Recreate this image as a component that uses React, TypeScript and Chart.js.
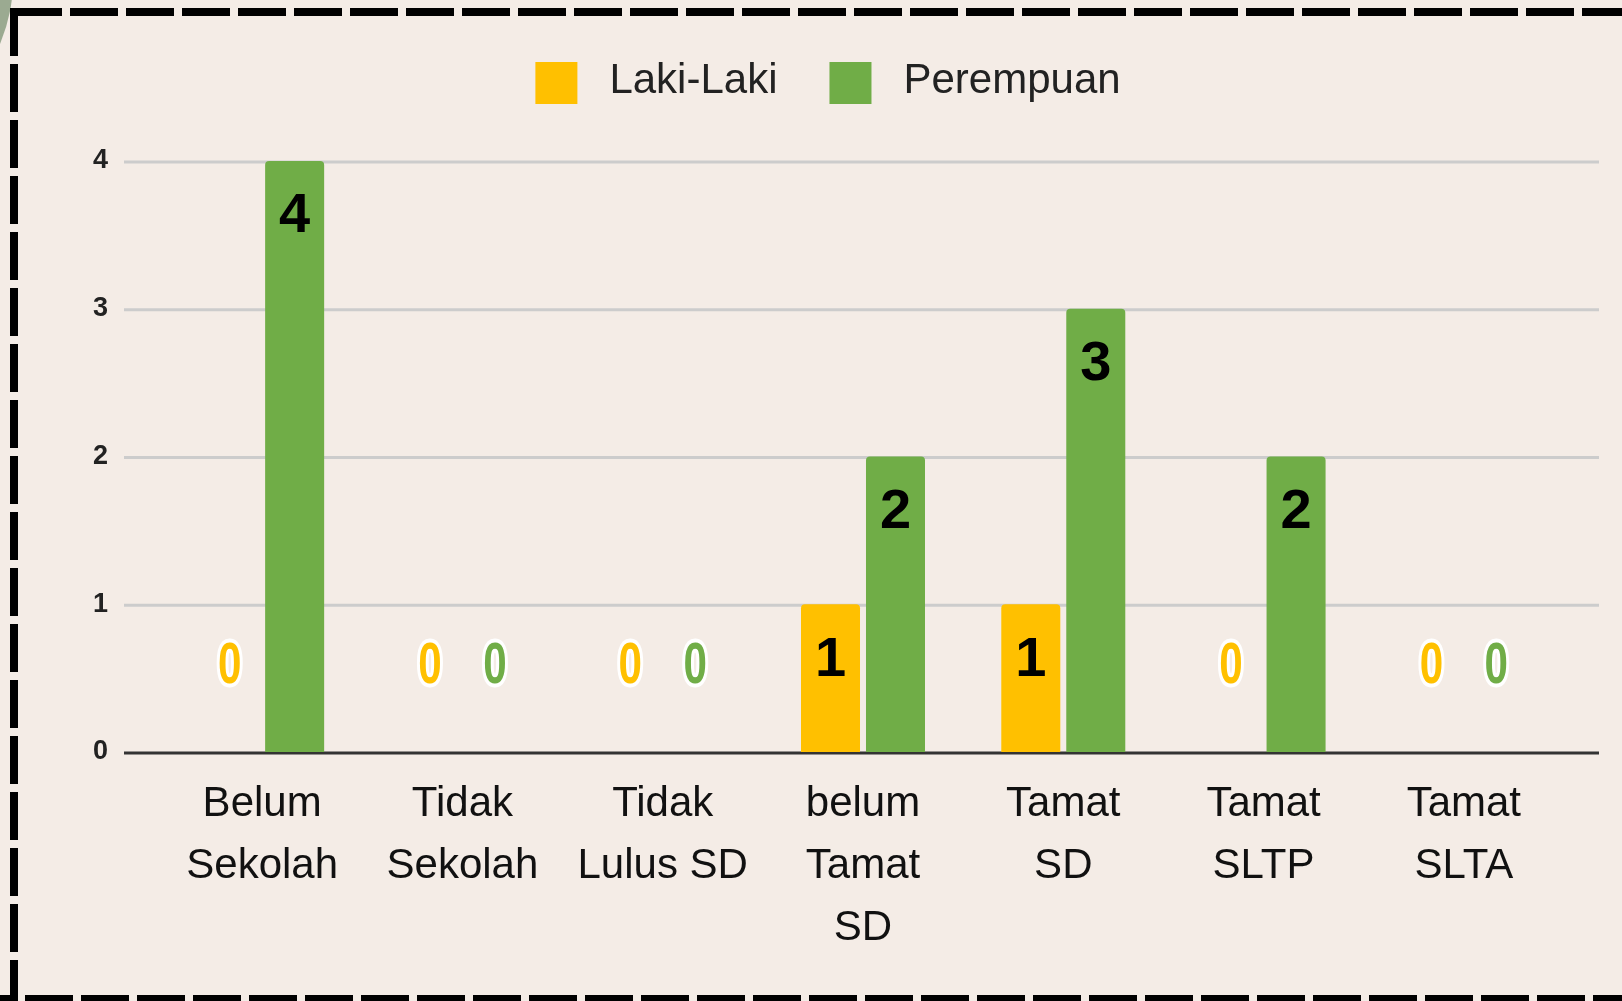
import React, { useEffect, useRef } from "react";
import { Chart, registerables } from "chart.js";

Chart.register(...registerables);

const categories: string[][] = [
  ["Belum", "Sekolah"],
  ["Tidak", "Sekolah"],
  ["Tidak", "Lulus SD"],
  ["belum", "Tamat", "SD"],
  ["Tamat", "SD"],
  ["Tamat", "SLTP"],
  ["Tamat", "SLTA"],
];
const lakiLaki = [0, 0, 0, 1, 1, 0, 0];
const perempuan = [4, 0, 0, 2, 3, 2, 0];
const yTicks = [0, 1, 2, 3, 4];
const seriesNames = ["Laki-Laki", "Perempuan"];
const seriesColors = ["#FFC000", "#70AD47"];

const W = 1622;
const H = 1001;
const BG = "#F4ECE6";
const FONT = '"Liberation Sans", Arial, sans-serif';

const backgroundPlugin = {
  id: "bgDeco",
  beforeDraw(chart: any) {
    const ctx = chart.ctx;
    ctx.save();
    ctx.fillStyle = BG;
    ctx.fillRect(0, 0, chart.width, chart.height);
    ctx.fillStyle = "#9BAA91";
    ctx.beginPath();
    ctx.arc(-150, -20, 163, 0, Math.PI * 2);
    ctx.fill();
    ctx.restore();
  },
};

const gridPlugin = {
  id: "customGrid",
  beforeDatasetsDraw(chart: any) {
    const ctx = chart.ctx;
    const ys = chart.scales.y;
    const { left, right } = chart.chartArea;
    ctx.save();
    yTicks.forEach((v) => {
      const py = ys.getPixelForValue(v) + 1;
      ctx.strokeStyle = v === 0 ? "#333333" : "#CCCCCC";
      ctx.lineWidth = 3;
      ctx.beginPath();
      ctx.moveTo(left - 38, py);
      ctx.lineTo(right + 35, py);
      ctx.stroke();
    });
    ctx.restore();
  },
};

const labelPlugin = {
  id: "valueLabels",
  afterDatasetsDraw(chart: any) {
    const ctx = chart.ctx;
    const base = chart.scales.y.getPixelForValue(0);
    ctx.save();
    ctx.textAlign = "center";
    ctx.textBaseline = "middle";
    chart.data.datasets.forEach((ds: any, di: number) => {
      const meta = chart.getDatasetMeta(di);
      meta.data.forEach((bar: any, i: number) => {
        const v = ds.data[i];
        if (v > 0) {
          ctx.font = `bold 56px ${FONT}`;
          ctx.fillStyle = "#000000";
          ctx.fillText(String(v), bar.x, bar.y + 56);
        } else {
          ctx.save();
          ctx.translate(bar.x, base - 85);
          ctx.scale(0.74, 1);
          ctx.font = `bold 57px ${FONT}`;
          ctx.lineJoin = "round";
          ctx.lineWidth = 8;
          ctx.strokeStyle = "#FFFFFF";
          ctx.strokeText(String(v), 0, 0);
          ctx.fillStyle = ds.backgroundColor;
          ctx.fillText(String(v), 0, 0);
          ctx.restore();
        }
      });
    });
    ctx.restore();
  },
};

const legendPlugin = {
  id: "customLegend",
  afterDraw(chart: any) {
    const ctx = chart.ctx;
    ctx.save();
    ctx.font = `42px ${FONT}`;
    const box = 42;
    const gapText = 32;
    const gapItem = 52;
    const widths = seriesNames.map((n) => ctx.measureText(n).width);
    let total = 0;
    widths.forEach((w, i) => {
      total += box + gapText + w + (i < widths.length - 1 ? gapItem : 0);
    });
    let x = 828 - total / 2;
    seriesNames.forEach((n, i) => {
      ctx.fillStyle = seriesColors[i];
      ctx.fillRect(x, 62, box, box);
      ctx.fillStyle = "#222222";
      ctx.textAlign = "left";
      ctx.textBaseline = "alphabetic";
      ctx.fillText(n, x + box + gapText, 93);
      x += box + gapText + widths[i] + gapItem;
    });
    ctx.restore();
  },
};

const borderPlugin = {
  id: "dashedBorder",
  afterDraw(chart: any) {
    const ctx = chart.ctx;
    ctx.save();
    ctx.strokeStyle = "#000000";
    ctx.lineWidth = 8;
    ctx.lineCap = "butt";
    ctx.setLineDash([48, 8]);
    ctx.beginPath();
    ctx.moveTo(14, 12);
    ctx.lineTo(W + 60, 12);
    ctx.stroke();
    ctx.beginPath();
    ctx.moveTo(14, 8);
    ctx.lineTo(14, H + 60);
    ctx.stroke();
    ctx.beginPath();
    ctx.moveTo(-31, 999);
    ctx.lineTo(W + 60, 999);
    ctx.stroke();
    ctx.restore();
  },
};

export default function App() {
  const ref = useRef<HTMLCanvasElement | null>(null);

  useEffect(() => {
    if (!ref.current) return;
    const chart = new Chart(ref.current, {
      type: "bar",
      data: {
        labels: categories as any,
        datasets: [
          {
            label: seriesNames[0],
            data: lakiLaki,
            backgroundColor: seriesColors[0],
            borderRadius: 4,
            borderSkipped: "start",
            categoryPercentage: 0.649,
            barPercentage: 0.908,
          },
          {
            label: seriesNames[1],
            data: perempuan,
            backgroundColor: seriesColors[1],
            borderRadius: 4,
            borderSkipped: "start",
            categoryPercentage: 0.649,
            barPercentage: 0.908,
          },
        ],
      },
      options: {
        responsive: false,
        devicePixelRatio: 1,
        animation: false,
        events: [],
        layout: { padding: { top: 161, right: 58, bottom: 0, left: 0 } },
        plugins: {
          legend: { display: false },
          tooltip: { enabled: false },
        },
        scales: {
          x: {
            type: "category",
            offset: true,
            grid: { display: false },
            border: { display: false },
            ticks: {
              font: { family: FONT, size: 42, lineHeight: 1.48 },
              color: "#111111",
              padding: 13,
              maxRotation: 0,
              minRotation: 0,
              autoSkip: false,
            },
            afterFit: (s: any) => {
              s.height = 249;
            },
          },
          y: {
            min: 0,
            max: 4,
            grid: { display: false },
            border: { display: false },
            ticks: {
              stepSize: 1,
              font: { family: FONT, size: 27, weight: "bold" },
              color: "#222222",
              padding: 46,
            },
            afterFit: (s: any) => {
              s.width = 162;
            },
          },
        },
      } as any,
      plugins: [backgroundPlugin, gridPlugin, labelPlugin, legendPlugin, borderPlugin],
    });
    return () => chart.destroy();
  }, []);

  return (
    <div
      style={{
        position: "fixed",
        left: 0,
        top: 0,
        width: W,
        height: H,
        background: BG,
        overflow: "hidden",
      }}
    >
      <canvas ref={ref} width={W} height={H} style={{ display: "block" }} />
    </div>
  );
}
